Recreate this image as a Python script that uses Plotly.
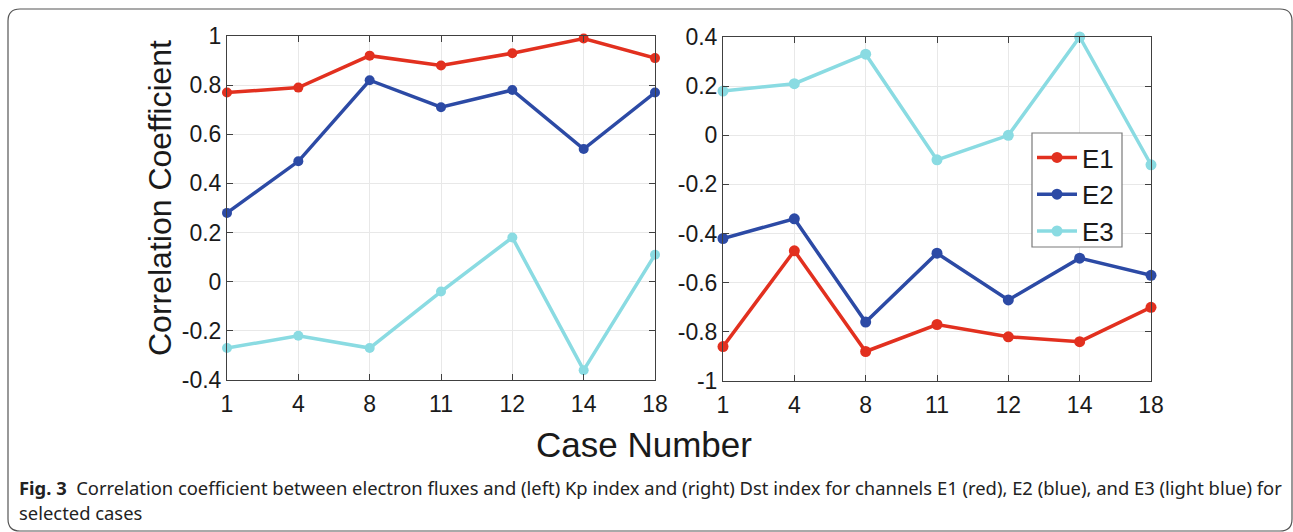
import plotly.graph_objects as go

cases = ["1", "4", "8", "11", "12", "14", "18"]

kp_e1 = [0.77, 0.79, 0.92, 0.88, 0.93, 0.99, 0.91]
kp_e2 = [0.28, 0.49, 0.82, 0.71, 0.78, 0.54, 0.77]
kp_e3 = [-0.27, -0.22, -0.27, -0.04, 0.18, -0.36, 0.11]

dst_e1 = [-0.86, -0.47, -0.88, -0.77, -0.82, -0.84, -0.70]
dst_e2 = [-0.42, -0.34, -0.76, -0.48, -0.67, -0.50, -0.57]
dst_e3 = [0.18, 0.21, 0.33, -0.10, 0.00, 0.40, -0.12]

left_ticks = [-0.4, -0.2, 0, 0.2, 0.4, 0.6, 0.8, 1]
left_ticktext = ["-0.4", "-0.2", "0", "0.2", "0.4", "0.6", "0.8", "1"]
right_ticks = [-1, -0.8, -0.6, -0.4, -0.2, 0, 0.2, 0.4]
right_ticktext = ["-1", "-0.8", "-0.6", "-0.4", "-0.2", "0", "0.2", "0.4"]

names = ["E1", "E2", "E3"]
colors = ["#e2301f", "#2c4aa5", "#8adbe2"]

W, H = 1293, 532
FONT = "Liberation Sans, Arial, sans-serif"

fig = go.Figure()
xpos = list(range(len(cases)))

for i, (ys, name) in enumerate(zip([kp_e1, kp_e2, kp_e3], names)):
    fig.add_trace(go.Scatter(x=xpos, y=ys, mode="lines+markers", name=name,
                             line=dict(color=colors[i], width=3.5),
                             marker=dict(color=colors[i], size=10),
                             cliponaxis=False, showlegend=False,
                             xaxis="x", yaxis="y"))
for i, (ys, name) in enumerate(zip([dst_e1, dst_e2, dst_e3], names)):
    fig.add_trace(go.Scatter(x=xpos, y=ys, mode="lines+markers", name=name,
                             line=dict(color=colors[i], width=3.5),
                             marker=dict(color=colors[i], size=11),
                             cliponaxis=False, showlegend=True,
                             xaxis="x2", yaxis="y2"))

def px_x(p):
    return p / W

def px_y(p):
    return 1 - p / H

axis_common = dict(showline=True, linecolor="#404040", linewidth=1, mirror="ticks",
                   ticks="inside", ticklen=6, tickcolor="#404040",
                   showgrid=True, gridcolor="#e8e8e8", gridwidth=1, zeroline=False,
                   tickfont=dict(family=FONT, size=23, color="#1a1a1a"))

fig.update_layout(
    width=W, height=H,
    margin=dict(l=0, r=0, t=0, b=0, autoexpand=False),
    paper_bgcolor="white", plot_bgcolor="white",
    xaxis=dict(domain=[px_x(227), px_x(655)], range=[0, 6], tickvals=xpos, ticktext=cases,
               anchor="y", ticklabelstandoff=3, **axis_common),
    yaxis=dict(domain=[px_y(380), px_y(36)], range=[-0.4, 1], tickvals=left_ticks,
               ticktext=left_ticktext, anchor="x", **axis_common),
    xaxis2=dict(domain=[px_x(723), px_x(1151)], range=[0, 6], tickvals=xpos, ticktext=cases,
                anchor="y2", ticklabelstandoff=3, **axis_common),
    yaxis2=dict(domain=[px_y(381), px_y(37)], range=[-1, 0.4], tickvals=right_ticks,
                ticktext=right_ticktext, anchor="x2", **axis_common),
    legend=dict(x=px_x(1032), y=px_y(134), xanchor="left", yanchor="top",
                bgcolor="rgba(0,0,0,0)", borderwidth=0,
                font=dict(family=FONT, size=26, color="#1a1a1a"),
                itemwidth=40, tracegroupgap=0),
)

# legend frame
fig.add_shape(type="rect", xref="paper", yref="paper",
              x0=px_x(1032), x1=px_x(1122), y0=px_y(247), y1=px_y(133),
              line=dict(color="#7a7a7a", width=1.2), fillcolor="white", layer="above")

# rounded outer frame
x0, x1 = px_x(8), px_x(1292)
y0, y1 = px_y(531), px_y(9)
rx, ry = 12 / W, 12 / H
path = (f"M {x0+rx},{y1} L {x1-rx},{y1} Q {x1},{y1} {x1},{y1-ry} "
        f"L {x1},{y0+ry} Q {x1},{y0} {x1-rx},{y0} L {x0+rx},{y0} "
        f"Q {x0},{y0} {x0},{y0+ry} L {x0},{y1-ry} Q {x0},{y1} {x0+rx},{y1} Z")
fig.add_shape(type="path", path=path, xref="paper", yref="paper",
              line=dict(color="#555555", width=1.2), fillcolor="rgba(0,0,0,0)", layer="below")

fig.add_annotation(text="Correlation Coefficient", xref="paper", yref="paper",
                   x=px_x(160), y=px_y(198), textangle=-90, showarrow=False,
                   font=dict(family=FONT, size=32, color="#1a1a1a"),
                   xanchor="center", yanchor="middle")
fig.add_annotation(text="Case Number", xref="paper", yref="paper",
                   x=px_x(644), y=px_y(444), showarrow=False,
                   font=dict(family=FONT, size=35, color="#1a1a1a"),
                   xanchor="center", yanchor="middle")

CAP = "Noto Sans, sans-serif"
fig.add_annotation(text="<b>Fig. 3</b>  Correlation coefficient between electron fluxes and (left) Kp index and (right) Dst index for channels E1 (red), E2 (blue), and E3 (light blue) for",
                   xref="paper", yref="paper", x=px_x(17), y=px_y(487), showarrow=False,
                   font=dict(family=CAP, size=18.4, color="#222222"),
                   xanchor="left", yanchor="middle")
fig.add_annotation(text="selected cases",
                   xref="paper", yref="paper", x=px_x(17), y=px_y(512), showarrow=False,
                   font=dict(family=CAP, size=18.4, color="#222222"),
                   xanchor="left", yanchor="middle")

fig.write_html("out.html")
